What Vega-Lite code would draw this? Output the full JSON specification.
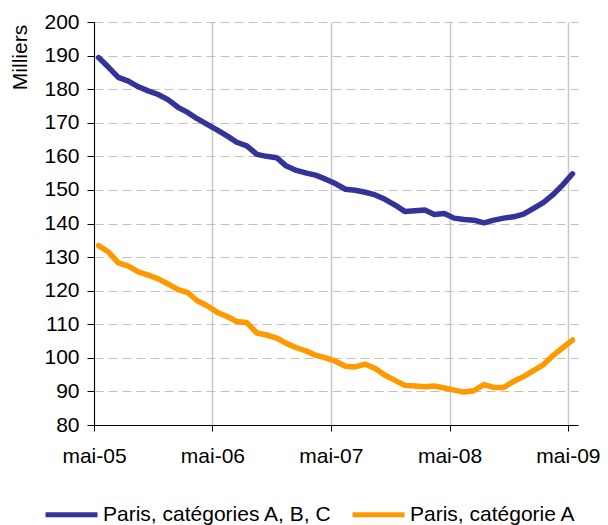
{
  "$schema": "https://vega.github.io/schema/vega-lite/v6.json",
  "width": 484,
  "height": 403,
  "autosize": {"type": "none"},
  "padding": {"left": 94, "top": 22, "right": 30, "bottom": 100},
  "background": "white",
  "config": {"view": {"stroke": null}, "font": "Liberation Sans"},
  "data": {
    "values": [
      {"date": "2005-05-15", "series": "Paris, catégories A, B, C", "value": 189.4},
      {"date": "2005-06-15", "series": "Paris, catégories A, B, C", "value": 186.5},
      {"date": "2005-07-15", "series": "Paris, catégories A, B, C", "value": 183.5},
      {"date": "2005-08-15", "series": "Paris, catégories A, B, C", "value": 182.4},
      {"date": "2005-09-15", "series": "Paris, catégories A, B, C", "value": 180.7},
      {"date": "2005-10-15", "series": "Paris, catégories A, B, C", "value": 179.5},
      {"date": "2005-11-15", "series": "Paris, catégories A, B, C", "value": 178.4},
      {"date": "2005-12-15", "series": "Paris, catégories A, B, C", "value": 176.9},
      {"date": "2006-01-15", "series": "Paris, catégories A, B, C", "value": 174.6},
      {"date": "2006-02-15", "series": "Paris, catégories A, B, C", "value": 173.0},
      {"date": "2006-03-15", "series": "Paris, catégories A, B, C", "value": 171.2},
      {"date": "2006-04-15", "series": "Paris, catégories A, B, C", "value": 169.5},
      {"date": "2006-05-15", "series": "Paris, catégories A, B, C", "value": 167.9},
      {"date": "2006-06-15", "series": "Paris, catégories A, B, C", "value": 166.1},
      {"date": "2006-07-15", "series": "Paris, catégories A, B, C", "value": 164.2},
      {"date": "2006-08-15", "series": "Paris, catégories A, B, C", "value": 163.1},
      {"date": "2006-09-15", "series": "Paris, catégories A, B, C", "value": 160.6},
      {"date": "2006-10-15", "series": "Paris, catégories A, B, C", "value": 160.0},
      {"date": "2006-11-15", "series": "Paris, catégories A, B, C", "value": 159.6},
      {"date": "2006-12-15", "series": "Paris, catégories A, B, C", "value": 157.1},
      {"date": "2007-01-15", "series": "Paris, catégories A, B, C", "value": 155.8},
      {"date": "2007-02-15", "series": "Paris, catégories A, B, C", "value": 155.0},
      {"date": "2007-03-15", "series": "Paris, catégories A, B, C", "value": 154.4},
      {"date": "2007-04-15", "series": "Paris, catégories A, B, C", "value": 153.2},
      {"date": "2007-05-15", "series": "Paris, catégories A, B, C", "value": 151.9},
      {"date": "2007-06-15", "series": "Paris, catégories A, B, C", "value": 150.2},
      {"date": "2007-07-15", "series": "Paris, catégories A, B, C", "value": 149.9},
      {"date": "2007-08-15", "series": "Paris, catégories A, B, C", "value": 149.3},
      {"date": "2007-09-15", "series": "Paris, catégories A, B, C", "value": 148.5},
      {"date": "2007-10-15", "series": "Paris, catégories A, B, C", "value": 147.2},
      {"date": "2007-11-15", "series": "Paris, catégories A, B, C", "value": 145.5},
      {"date": "2007-12-15", "series": "Paris, catégories A, B, C", "value": 143.6},
      {"date": "2008-01-15", "series": "Paris, catégories A, B, C", "value": 143.8},
      {"date": "2008-02-15", "series": "Paris, catégories A, B, C", "value": 144.0},
      {"date": "2008-03-15", "series": "Paris, catégories A, B, C", "value": 142.7},
      {"date": "2008-04-15", "series": "Paris, catégories A, B, C", "value": 143.0},
      {"date": "2008-05-15", "series": "Paris, catégories A, B, C", "value": 141.6},
      {"date": "2008-06-15", "series": "Paris, catégories A, B, C", "value": 141.2},
      {"date": "2008-07-15", "series": "Paris, catégories A, B, C", "value": 141.0},
      {"date": "2008-08-15", "series": "Paris, catégories A, B, C", "value": 140.2},
      {"date": "2008-09-15", "series": "Paris, catégories A, B, C", "value": 141.0},
      {"date": "2008-10-15", "series": "Paris, catégories A, B, C", "value": 141.6},
      {"date": "2008-11-15", "series": "Paris, catégories A, B, C", "value": 142.0},
      {"date": "2008-12-15", "series": "Paris, catégories A, B, C", "value": 142.8},
      {"date": "2009-01-15", "series": "Paris, catégories A, B, C", "value": 144.5},
      {"date": "2009-02-15", "series": "Paris, catégories A, B, C", "value": 146.3},
      {"date": "2009-03-15", "series": "Paris, catégories A, B, C", "value": 148.5},
      {"date": "2009-04-15", "series": "Paris, catégories A, B, C", "value": 151.5},
      {"date": "2009-05-15", "series": "Paris, catégories A, B, C", "value": 154.8},
      {"date": "2005-05-15", "series": "Paris, catégorie A", "value": 133.4},
      {"date": "2005-06-15", "series": "Paris, catégorie A", "value": 131.5},
      {"date": "2005-07-15", "series": "Paris, catégorie A", "value": 128.3},
      {"date": "2005-08-15", "series": "Paris, catégorie A", "value": 127.3},
      {"date": "2005-09-15", "series": "Paris, catégorie A", "value": 125.6},
      {"date": "2005-10-15", "series": "Paris, catégorie A", "value": 124.6},
      {"date": "2005-11-15", "series": "Paris, catégorie A", "value": 123.5},
      {"date": "2005-12-15", "series": "Paris, catégorie A", "value": 122.0},
      {"date": "2006-01-15", "series": "Paris, catégorie A", "value": 120.3},
      {"date": "2006-02-15", "series": "Paris, catégorie A", "value": 119.4},
      {"date": "2006-03-15", "series": "Paris, catégorie A", "value": 117.0},
      {"date": "2006-04-15", "series": "Paris, catégorie A", "value": 115.5},
      {"date": "2006-05-15", "series": "Paris, catégorie A", "value": 113.6},
      {"date": "2006-06-15", "series": "Paris, catégorie A", "value": 112.3},
      {"date": "2006-07-15", "series": "Paris, catégorie A", "value": 110.8},
      {"date": "2006-08-15", "series": "Paris, catégorie A", "value": 110.5},
      {"date": "2006-09-15", "series": "Paris, catégorie A", "value": 107.4},
      {"date": "2006-10-15", "series": "Paris, catégorie A", "value": 106.8},
      {"date": "2006-11-15", "series": "Paris, catégorie A", "value": 105.9},
      {"date": "2006-12-15", "series": "Paris, catégorie A", "value": 104.3},
      {"date": "2007-01-15", "series": "Paris, catégorie A", "value": 103.0},
      {"date": "2007-02-15", "series": "Paris, catégorie A", "value": 102.0},
      {"date": "2007-03-15", "series": "Paris, catégorie A", "value": 100.8},
      {"date": "2007-04-15", "series": "Paris, catégorie A", "value": 100.0},
      {"date": "2007-05-15", "series": "Paris, catégorie A", "value": 99.0},
      {"date": "2007-06-15", "series": "Paris, catégorie A", "value": 97.5},
      {"date": "2007-07-15", "series": "Paris, catégorie A", "value": 97.3},
      {"date": "2007-08-15", "series": "Paris, catégorie A", "value": 98.1},
      {"date": "2007-09-15", "series": "Paris, catégorie A", "value": 96.8},
      {"date": "2007-10-15", "series": "Paris, catégorie A", "value": 94.8},
      {"date": "2007-11-15", "series": "Paris, catégorie A", "value": 93.3},
      {"date": "2007-12-15", "series": "Paris, catégorie A", "value": 91.8},
      {"date": "2008-01-15", "series": "Paris, catégorie A", "value": 91.6},
      {"date": "2008-02-15", "series": "Paris, catégorie A", "value": 91.4},
      {"date": "2008-03-15", "series": "Paris, catégorie A", "value": 91.6},
      {"date": "2008-04-15", "series": "Paris, catégorie A", "value": 91.0},
      {"date": "2008-05-15", "series": "Paris, catégorie A", "value": 90.4},
      {"date": "2008-06-15", "series": "Paris, catégorie A", "value": 89.8},
      {"date": "2008-07-15", "series": "Paris, catégorie A", "value": 90.2},
      {"date": "2008-08-15", "series": "Paris, catégorie A", "value": 92.0},
      {"date": "2008-09-15", "series": "Paris, catégorie A", "value": 91.2},
      {"date": "2008-10-15", "series": "Paris, catégorie A", "value": 91.2},
      {"date": "2008-11-15", "series": "Paris, catégorie A", "value": 93.0},
      {"date": "2008-12-15", "series": "Paris, catégorie A", "value": 94.4},
      {"date": "2009-01-15", "series": "Paris, catégorie A", "value": 96.2},
      {"date": "2009-02-15", "series": "Paris, catégorie A", "value": 98.0},
      {"date": "2009-03-15", "series": "Paris, catégorie A", "value": 100.6},
      {"date": "2009-04-15", "series": "Paris, catégorie A", "value": 103.0},
      {"date": "2009-05-15", "series": "Paris, catégorie A", "value": 105.3}
    ]
  },
  "mark": {"type": "line", "strokeWidth": 5.5, "strokeCap": "round", "strokeJoin": "round"},
  "encoding": {
    "x": {
      "field": "date",
      "type": "temporal",
      "scale": {
        "type": "utc",
        "domain": [
          {"year": 2005, "month": 5, "date": 1, "utc": true},
          {"year": 2009, "month": 6, "date": 1, "utc": true}
        ]
      },
      "axis": {
        "title": null,
        "values": [
          {"year": 2005, "month": 5, "date": 1, "utc": true},
          {"year": 2006, "month": 5, "date": 1, "utc": true},
          {"year": 2007, "month": 5, "date": 1, "utc": true},
          {"year": 2008, "month": 5, "date": 1, "utc": true},
          {"year": 2009, "month": 5, "date": 1, "utc": true}
        ],
        "labelExpr": "'mai-' + utcFormat(datum.value, '%y')",
        "grid": true,
        "gridColor": "#c8c8c8",
        "gridWidth": 1.5,
        "domainColor": "#000000",
        "tickColor": "#000000",
        "tickSize": 6,
        "labelFontSize": 21,
        "labelColor": "#000000",
        "labelPadding": 14,
        "labelDx": 4,
        "labelFlush": false,
        "labelOverlap": false
      }
    },
    "y": {
      "field": "value",
      "type": "quantitative",
      "scale": {"domain": [80, 200], "nice": false, "zero": false},
      "axis": {
        "values": [80, 90, 100, 110, 120, 130, 140, 150, 160, 170, 180, 190, 200],
        "grid": true,
        "gridColor": "#c0c0c0",
        "gridDash": [9, 5],
        "gridWidth": 1.2,
        "domainColor": "#000000",
        "tickColor": "#000000",
        "tickSize": 7,
        "labelPadding": 8,
        "labelFontSize": 21,
        "labelColor": "#000000",
        "title": "Milliers",
        "titleFontSize": 21,
        "titleFontWeight": "normal",
        "titleColor": "#000000",
        "titleAngle": 270,
        "titleX": -74,
        "titleY": 35,
        "titleAlign": "center",
        "titleBaseline": "middle"
      }
    },
    "color": {
      "field": "series",
      "type": "nominal",
      "scale": {
        "domain": ["Paris, catégories A, B, C", "Paris, catégorie A"],
        "range": ["#333399", "#FF9900"]
      },
      "legend": {
        "title": null,
        "orient": "none",
        "legendX": -51,
        "legendY": 464,
        "direction": "horizontal",
        "symbolType": "stroke",
        "symbolSize": 2700,
        "symbolStrokeWidth": 5,
        "labelFontSize": 21,
        "labelColor": "#000000",
        "labelOffset": 3,
        "columnPadding": 10,
        "labelLimit": 400
      }
    }
  }
}
